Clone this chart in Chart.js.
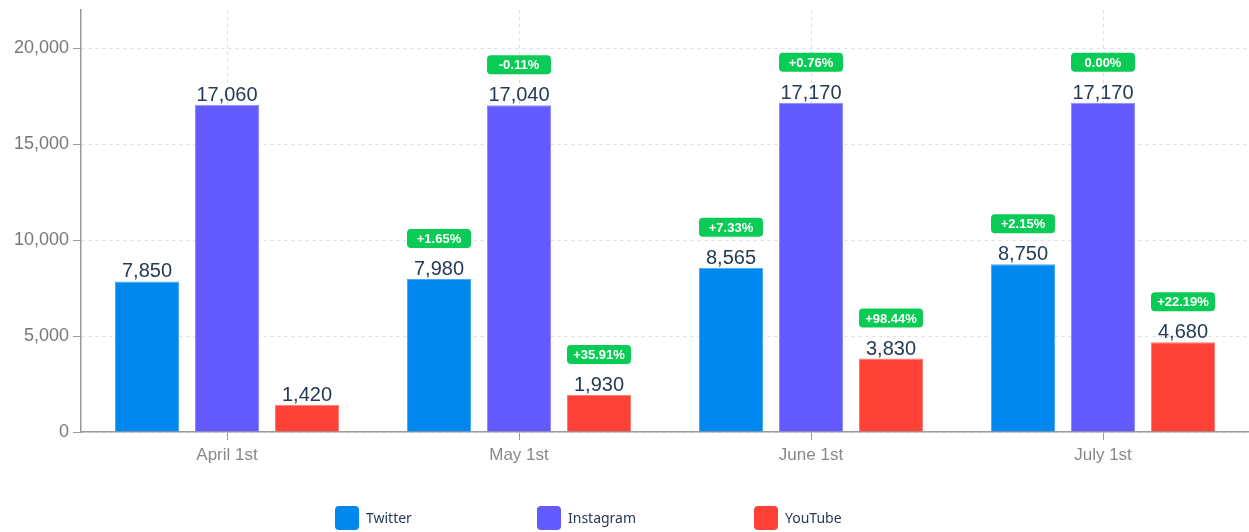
<!DOCTYPE html>
<html>
<head>
<meta charset="utf-8">
<script src="https://cdn.jsdelivr.net/npm/chart.js@4"></script>
<style>
  html, body { margin: 0; padding: 0; background: #fff; }
  #wrap { width: 1249px; height: 532px; position: relative; }
</style>
</head>
<body>
<div id="wrap"><canvas id="socialChart"></canvas></div>
<script>
/* ── Data ── */
const categories = ['April 1st', 'May 1st', 'June 1st', 'July 1st'];
const twitter    = [7850, 7980, 8565, 8750];
const instagram  = [17060, 17040, 17170, 17170];
const youtube    = [1420, 1930, 3830, 4680];
const twitterChange   = ['', '+1.65%', '+7.33%', '+2.15%'];
const instagramChange = ['', '-0.11%', '+0.76%', '0.00%'];
const youtubeChange   = ['', '+35.91%', '+98.44%', '+22.19%'];
const yTicks = [0, 5000, 10000, 15000, 20000];

const FONT = "'Liberation Sans', Arial, sans-serif";
const LABEL_COLOR = '#243b53';

/* ── Value labels + change badges above bars ── */
const barLabels = {
  id: 'barLabels',
  afterDatasetsDraw(chart) {
    const { ctx } = chart;
    ctx.save();
    chart.data.datasets.forEach((ds, di) => {
      const meta = chart.getDatasetMeta(di);
      meta.data.forEach((bar, i) => {
        const x = bar.x, top = bar.y;
        ctx.font = '20px ' + FONT;
        ctx.fillStyle = LABEL_COLOR;
        ctx.textAlign = 'center';
        ctx.textBaseline = 'alphabetic';
        ctx.fillText(ds.data[i].toLocaleString('en-US'), x, top - 4);

        const change = ds.changes[i];
        if (!change) return;
        const w = 64, h = 19, r = 4;
        const bx = x - w / 2, by = top - 50;
        ctx.fillStyle = '#0acb55';
        ctx.beginPath();
        ctx.roundRect(bx, by, w, h, r);
        ctx.fill();
        ctx.fillStyle = '#fff';
        ctx.font = 'bold 13px ' + FONT;
        ctx.textBaseline = 'middle';
        ctx.fillText(change, x, by + h / 2 + 1);
      });
    });
    ctx.restore();
  }
};

/* ── Bottom legend ── */
const bottomLegend = {
  id: 'bottomLegend',
  afterDraw(chart) {
    const { ctx } = chart;
    const boxX = [335, 537, 754];
    ctx.save();
    chart.data.datasets.forEach((ds, i) => {
      ctx.fillStyle = ds.backgroundColor;
      ctx.beginPath();
      ctx.roundRect(boxX[i], 506, 24, 24, 4);
      ctx.fill();
      ctx.fillStyle = LABEL_COLOR;
      ctx.font = "14px 'Noto Sans', sans-serif";
      ctx.textAlign = 'left';
      ctx.textBaseline = 'middle';
      ctx.fillText(ds.label, boxX[i] + 31, 519);
    });
    ctx.restore();
  }
};

const gridStyle = { color: '#dcdcdc', lineWidth: 1, tickColor: '#999', tickLength: 8, tickBorderDash: [] };

new Chart(document.getElementById('socialChart'), {
  type: 'bar',
  data: {
    labels: categories,
    datasets: [
      { label: 'Twitter',   data: twitter,   changes: twitterChange,
        backgroundColor: '#0088ef', borderColor: '#4aa8f5', borderWidth: 1 },
      { label: 'Instagram', data: instagram, changes: instagramChange,
        backgroundColor: '#635bff', borderColor: '#8f89ff', borderWidth: 1 },
      { label: 'YouTube',   data: youtube,   changes: youtubeChange,
        backgroundColor: '#ff4138', borderColor: '#ff7a74', borderWidth: 1 }
    ]
  },
  options: {
    responsive: true,
    maintainAspectRatio: false,
    animation: false,
    categoryPercentage: 240 / 292,
    barPercentage: 0.8,
    layout: { padding: { top: 10, right: 0, bottom: 60, left: 0 } },
    plugins: {
      legend: { display: false },
      tooltip: { enabled: false }
    },
    scales: {
      x: {
        grid: Object.assign({ offset: false }, gridStyle),
        border: { display: true, color: '#999', width: 1.5, dash: [3, 4] },
        ticks: { color: '#888', font: { family: FONT, size: 17 }, padding: 5 },
        afterFit(scale) { scale.height = 40; scale.paddingLeft = 0; scale.paddingRight = 0; }
      },
      y: {
        min: 0,
        max: 22000,
        bounds: 'data',
        grid: gridStyle,
        border: { display: true, color: '#999', width: 1.5, dash: [3, 4] },
        ticks: {
          color: '#777',
          font: { family: FONT, size: 18 },
          padding: 4,
          callback: v => v.toLocaleString('en-US')
        },
        afterBuildTicks(scale) { scale.ticks = yTicks.map(v => ({ value: v })); },
        afterFit(scale) { scale.width = 81; scale.paddingTop = 0; scale.paddingBottom = 0; }
      }
    }
  },
  plugins: [barLabels, bottomLegend]
});
</script>
</body>
</html>
